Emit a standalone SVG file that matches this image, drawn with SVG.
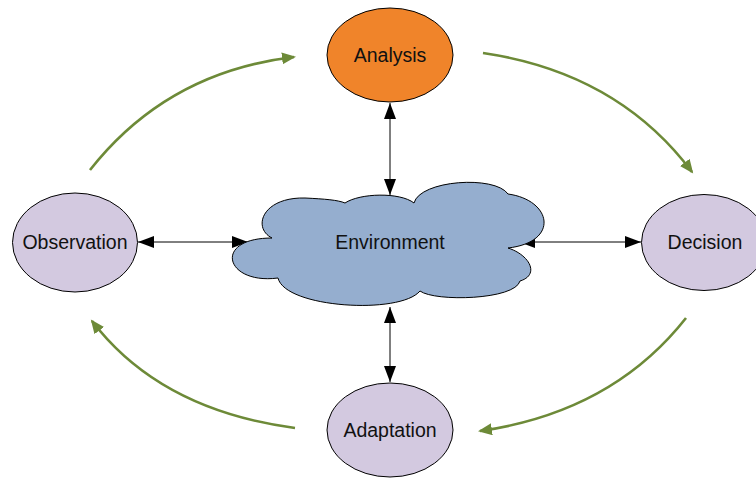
<svg xmlns="http://www.w3.org/2000/svg" width="756" height="478" viewBox="0 0 756 478">
<style>
.node{stroke:#000;stroke-width:1}
.lav{fill:#D3C9E0}
.lbl{font-family:"Liberation Sans",Arial,sans-serif;font-size:19.5px;fill:#111;text-anchor:middle}
.blk{stroke:#000;stroke-width:1;fill:none;marker-start:url(#bs);marker-end:url(#be)}
.grn{stroke:#6D8A38;stroke-width:2.6;fill:none;marker-end:url(#ge)}
</style>
<defs>
<marker id="be" markerUnits="userSpaceOnUse" markerWidth="17" markerHeight="13" refX="16" refY="6" orient="auto"><path d="M0,0 L16,6 L0,12 Z" fill="#000"/></marker>
<marker id="bs" markerUnits="userSpaceOnUse" markerWidth="17" markerHeight="13" refX="0" refY="6" orient="auto"><path d="M16,0 L0,6 L16,12 Z" fill="#000"/></marker>
<marker id="ge" markerUnits="userSpaceOnUse" markerWidth="16" markerHeight="14" refX="12" refY="6" orient="auto"><path d="M0,0 L14,6 L0,12 Z" fill="#6D8A38"/></marker>
</defs>
<g id="connectors">
<path class="blk" d="M390,103 L390,195"/>
<path class="blk" d="M390,307 L390,382"/>
<path class="blk" d="M138,242 L248,242"/>
<path class="blk" d="M519,242 L641,242"/>
<path class="grn" d="M90,170 Q167,72 294,57"/>
<path class="grn" d="M483,53 Q618,73 692,172"/>
<path class="grn" d="M686,318 Q612,412 480,431"/>
<path class="grn" d="M295,428 Q160,410 92,321"/>
</g>
<g id="environment">
<path class="node" fill="#95AECF" d="M272,238 C252,228 262,197 305,198 C325,199 338,200 345,203 C360,193 400,192 414,203 C420,180 495,175 508,194 C552,200 560,242 508,248 C530,255 540,275 520,281 C515,300 435,302 420,291 C400,315 285,308 278,278 C225,285 212,238 272,238 Z"/>
<text class="lbl" x="390" y="248.5">Environment</text>
</g>
<g id="analysis">
<ellipse class="node" fill="#F0842A" cx="390" cy="55" rx="63" ry="47"/>
<text class="lbl" x="390" y="61.5">Analysis</text>
</g>
<g id="observation">
<ellipse class="node lav" cx="75" cy="242.5" rx="62.5" ry="49.5"/>
<text class="lbl" x="75" y="249">Observation</text>
</g>
<g id="decision">
<ellipse class="node lav" cx="704" cy="242.5" rx="62.5" ry="48"/>
<text class="lbl" x="705" y="249">Decision</text>
</g>
<g id="adaptation">
<ellipse class="node lav" cx="390" cy="430" rx="63" ry="47"/>
<text class="lbl" x="390" y="436.5">Adaptation</text>
</g>
</svg>
